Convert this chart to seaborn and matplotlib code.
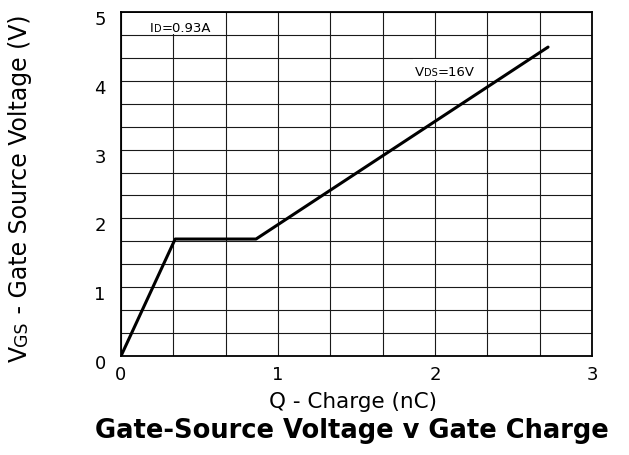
import matplotlib

matplotlib.use("Agg")

import numpy as np
import pandas as pd
import matplotlib.pyplot as plt
import matplotlib.transforms as mtransforms
from matplotlib.patches import Rectangle
import seaborn as sns

# gate charge curve (nC, V)
charge_nc = [0.0, 0.345, 0.86, 2.72]
gate_volts = [0.0, 1.70, 1.70, 4.49]
x_ticks = [0, 1, 2, 3]
y_ticks = [0, 1, 2, 3, 4, 5]

W, H = 629, 456

sns.set_theme(style="white")
plt.rcParams["font.family"] = ["DejaVu Sans"]

df = pd.DataFrame({"Q": charge_nc, "VGS": gate_volts})

fig = plt.figure(figsize=(W / 100, H / 100), dpi=100)
ax = fig.add_axes([121 / W, 99 / H, 471 / W, 344 / H])

sns.lineplot(data=df, x="Q", y="VGS", color="black", linewidth=2.2,
             sort=False, ax=ax, zorder=5)

ax.set_xlim(0, 3)
ax.set_ylim(0, 5)
ax.set_xticks(x_ticks)
ax.set_yticks(y_ticks)
ax.set_xticks(np.arange(0, 3.01, 1 / 3), minor=True)
ax.set_yticks(np.arange(0, 5.01, 1 / 3), minor=True)
ax.grid(True, which="both", color="#1a1a1a", linewidth=0.8)
ax.tick_params(which="both", length=0, labelsize=13, colors="black")
ax.tick_params(axis="x", pad=6.5)
ax.tick_params(axis="y", pad=11)
for s in ax.spines.values():
    s.set_color("black")
    s.set_linewidth(1.3)
ax.set_xlabel("")
ax.set_ylabel("")

# y tick labels sit a little below their grid line
shift = mtransforms.ScaledTranslation(0, -5 / 100, fig.dpi_scale_trans)
for lab in ax.get_yticklabels():
    lab.set_transform(lab.get_transform() + shift)

# white patches behind the in-plot notes
ax.add_patch(Rectangle((0.01, 4.675), 0.65, 0.315, facecolor="white",
                       edgecolor="none", zorder=2))
ax.add_patch(Rectangle((1.86, 4.015), 0.42, 0.305, facecolor="white",
                       edgecolor="none", zorder=2))

renderer = fig.canvas.get_renderer()


def put_pieces(x_px, y_px, pieces, rotation=0):
    # text of mixed sizes on one baseline, positions in pixels
    for txt, fs in pieces:
        t = fig.text(x_px / W, y_px / H, txt, fontsize=fs, rotation=rotation,
                     rotation_mode="anchor", ha="left", va="baseline",
                     color="black", zorder=6)
        bb = t.get_window_extent(renderer)
        if rotation == 90:
            y_px += bb.height
        else:
            x_px += bb.width


put_pieces(150, H - 32, [("I", 9.5), ("D", 7), ("=0.93A", 9.5)])
put_pieces(415, H - 76, [("V", 9.5), ("DS", 7), ("=16V", 9.5)])
put_pieces(27, H - 362, [("V", 17), ("GS", 12.5),
                         (" - Gate Source Voltage (V)", 17)], rotation=90)

cx = 353 / W
fig.text(cx, 48 / H, "Q - Charge (nC)", fontsize=15.5, ha="center",
         va="baseline", color="black")
fig.text(352 / W, 18 / H, "Gate-Source Voltage v Gate Charge", fontsize=18.5,
         fontweight="bold", ha="center", va="baseline", color="black")

fig.savefig("out.png", dpi=100)
